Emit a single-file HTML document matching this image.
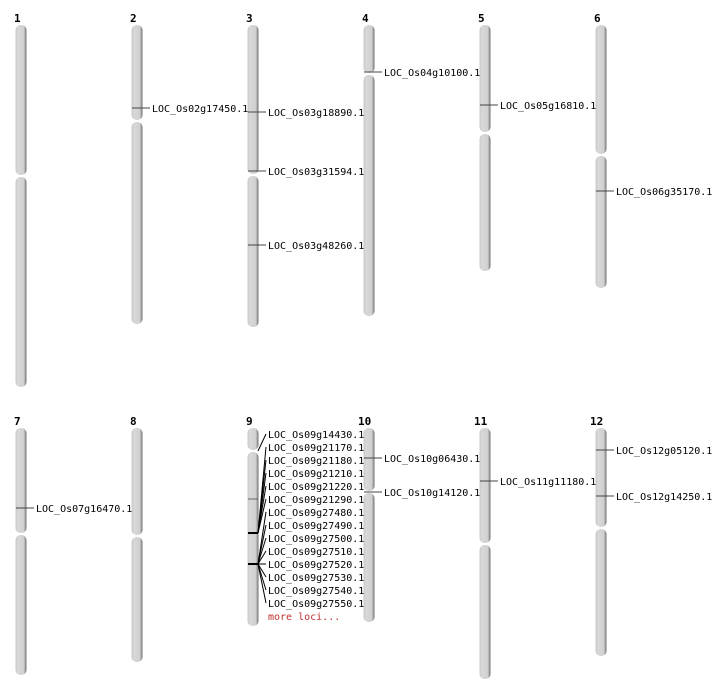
<!DOCTYPE html><html><head><style>body{margin:0;background:#fff}svg{display:block}text{font-family:"DejaVu Sans Mono","Liberation Mono",monospace;font-size:10px}.n{font-weight:bold;font-size:11px}.m{stroke:#444}.f{stroke:#000}</style></head><body>
<svg width="712" height="700" xmlns="http://www.w3.org/2000/svg">
<defs><linearGradient id="g" x1="0" x2="1"><stop offset="0" stop-color="#c8c8c8"/><stop offset="0.25" stop-color="#d8d8d8"/><stop offset="0.75" stop-color="#d0d0d0"/><stop offset="0.9" stop-color="#999"/><stop offset="1" stop-color="#666"/></linearGradient></defs>
<g fill="url(#g)">
<rect x="15.5" y="25" width="11" height="150" rx="5"/><rect x="15.5" y="177" width="11" height="210" rx="5"/>
<rect x="131.5" y="25" width="11" height="95" rx="5"/><rect x="131.5" y="122" width="11" height="202" rx="5"/>
<rect x="247.5" y="25" width="11" height="149" rx="5"/><rect x="247.5" y="176" width="11" height="151" rx="5"/>
<rect x="363.5" y="25" width="11" height="48" rx="5"/><rect x="363.5" y="75" width="11" height="241" rx="5"/>
<rect x="479.5" y="25" width="11" height="107" rx="5"/><rect x="479.5" y="134" width="11" height="137" rx="5"/>
<rect x="595.5" y="25" width="11" height="129" rx="5"/><rect x="595.5" y="156" width="11" height="132" rx="5"/>
<rect x="15.5" y="428" width="11" height="105" rx="5"/><rect x="15.5" y="535" width="11" height="140" rx="5"/>
<rect x="131.5" y="428" width="11" height="107" rx="5"/><rect x="131.5" y="537" width="11" height="125" rx="5"/>
<rect x="247.5" y="428" width="11" height="22" rx="5"/><rect x="247.5" y="452" width="11" height="174" rx="5"/>
<rect x="363.5" y="428" width="11" height="63" rx="5"/><rect x="363.5" y="493" width="11" height="129" rx="5"/>
<rect x="479.5" y="428" width="11" height="115" rx="5"/><rect x="479.5" y="545" width="11" height="134" rx="5"/>
<rect x="595.5" y="428" width="11" height="99" rx="5"/><rect x="595.5" y="529" width="11" height="127" rx="5"/>
</g>
<text class="n" x="14" y="22">1</text><text class="n" x="130" y="22">2</text><text class="n" x="246" y="22">3</text><text class="n" x="362" y="22">4</text><text class="n" x="478" y="22">5</text><text class="n" x="594" y="22">6</text>
<text class="n" x="14" y="425">7</text><text class="n" x="130" y="425">8</text><text class="n" x="246" y="425">9</text><text class="n" x="358" y="425">10</text><text class="n" x="474" y="425">11</text><text class="n" x="590" y="425">12</text>
<line class="m" x1="132" x2="150" y1="108" y2="108"/><text x="152" y="112">LOC_Os02g17450.1</text>
<line class="m" x1="248" x2="266" y1="112" y2="112"/><text x="268" y="116">LOC_Os03g18890.1</text>
<line class="m" x1="248" x2="266" y1="171" y2="171"/><text x="268" y="175">LOC_Os03g31594.1</text>
<line class="m" x1="248" x2="266" y1="245" y2="245"/><text x="268" y="249">LOC_Os03g48260.1</text>
<line class="m" x1="364" x2="382" y1="72" y2="72"/><text x="384" y="76">LOC_Os04g10100.1</text>
<line class="m" x1="480" x2="498" y1="105" y2="105"/><text x="500" y="109">LOC_Os05g16810.1</text>
<line class="m" x1="596" x2="614" y1="191" y2="191"/><text x="616" y="195">LOC_Os06g35170.1</text>
<line class="m" x1="16" x2="34" y1="508" y2="508"/><text x="36" y="512">LOC_Os07g16470.1</text>
<line class="m" x1="364" x2="382" y1="458" y2="458"/><text x="384" y="462">LOC_Os10g06430.1</text>
<line class="m" x1="364" x2="382" y1="492" y2="492"/><text x="384" y="496">LOC_Os10g14120.1</text>
<line class="m" x1="480" x2="498" y1="481" y2="481"/><text x="500" y="485">LOC_Os11g11180.1</text>
<line class="m" x1="596" x2="614" y1="450" y2="450"/><text x="616" y="454">LOC_Os12g05120.1</text>
<line class="m" x1="596" x2="614" y1="496" y2="496"/><text x="616" y="500">LOC_Os12g14250.1</text>
<line x1="248" x2="258" y1="499" y2="499" stroke="#666"/>
<line x1="248" x2="258" y1="533" y2="533" stroke="#000" stroke-width="2"/>
<line x1="248" x2="258" y1="564" y2="564" stroke="#000" stroke-width="2"/>
<line class="f" x1="258" y1="451" x2="266" y2="434"/>
<line class="f" x1="258" y1="533" x2="266" y2="447"/>
<line class="f" x1="258" y1="533" x2="266" y2="460"/>
<line class="f" x1="258" y1="533" x2="266" y2="473"/>
<line class="f" x1="258" y1="533" x2="266" y2="486"/>
<line class="f" x1="258" y1="533" x2="266" y2="499"/>
<line class="f" x1="258" y1="564" x2="266" y2="512"/>
<line class="f" x1="258" y1="564" x2="266" y2="525"/>
<line class="f" x1="258" y1="564" x2="266" y2="538"/>
<line class="f" x1="258" y1="564" x2="266" y2="551"/>
<line class="f" x1="258" y1="564" x2="266" y2="564"/>
<line class="f" x1="258" y1="564" x2="266" y2="577"/>
<line class="f" x1="258" y1="564" x2="266" y2="590"/>
<line class="f" x1="258" y1="564" x2="266" y2="603"/>
<text x="268" y="438">LOC_Os09g14430.1</text>
<text x="268" y="451">LOC_Os09g21170.1</text>
<text x="268" y="464">LOC_Os09g21180.1</text>
<text x="268" y="477">LOC_Os09g21210.1</text>
<text x="268" y="490">LOC_Os09g21220.1</text>
<text x="268" y="503">LOC_Os09g21290.1</text>
<text x="268" y="516">LOC_Os09g27480.1</text>
<text x="268" y="529">LOC_Os09g27490.1</text>
<text x="268" y="542">LOC_Os09g27500.1</text>
<text x="268" y="555">LOC_Os09g27510.1</text>
<text x="268" y="568">LOC_Os09g27520.1</text>
<text x="268" y="581">LOC_Os09g27530.1</text>
<text x="268" y="594">LOC_Os09g27540.1</text>
<text x="268" y="607">LOC_Os09g27550.1</text>
<text x="268" y="620" fill="#c03030">more loci...</text>
</svg></body></html>
